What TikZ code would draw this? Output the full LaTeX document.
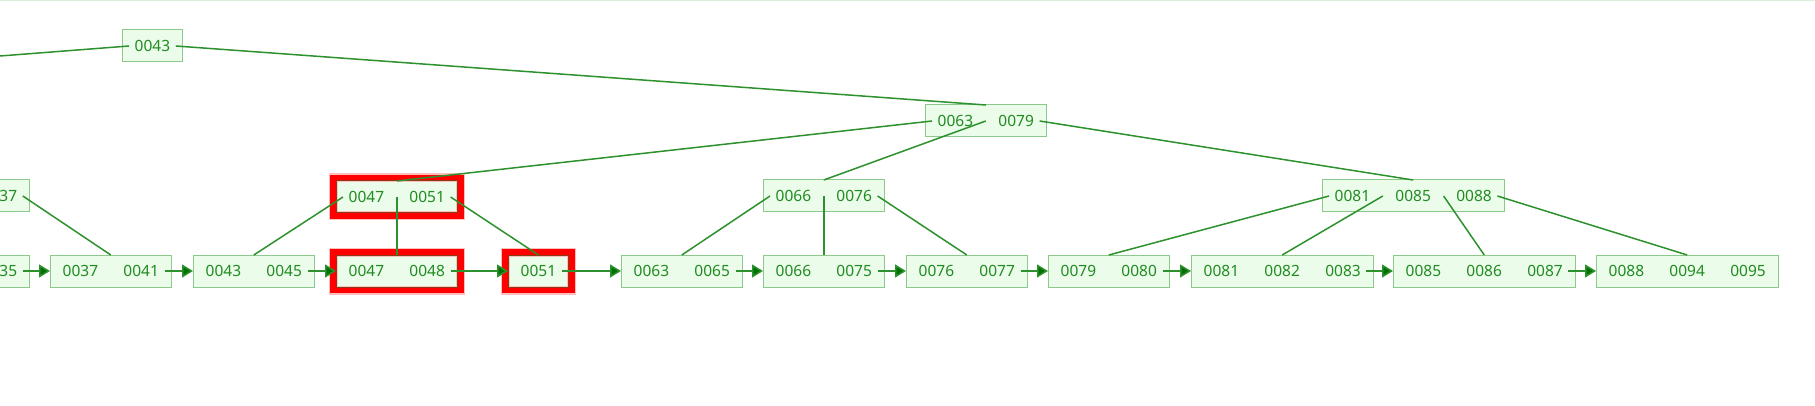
\documentclass[tikz,border=0pt]{standalone}
\usepackage{fontspec}
\setmainfont{Noto Sans}
\usetikzlibrary{calc,arrows.meta}
\definecolor{boxfill}{RGB}{235,252,235}
\definecolor{boxline}{RGB}{140,202,140}
\definecolor{keytext}{RGB}{34,140,34}
\definecolor{edgegreen}{RGB}{45,145,45}
\definecolor{tipgreen}{RGB}{0,112,0}
\definecolor{hlinner}{RGB}{140,60,20}
\definecolor{topband}{RGB}{215,240,215}
\tikzset{
  kbox/.style={draw=boxline, fill=boxfill, line width=1pt, minimum height=32pt, inner sep=0pt, outer sep=0pt, anchor=north west},
  ktext/.style={text=keytext, font=\fontsize{15.5}{18}\selectfont, inner sep=0pt},
  hl/.style={draw=hlinner},
  hlring/.style={draw=red, line width=6pt},
  hlhalo/.style={draw=red!25, line width=9pt},
  tree/.style={draw=edgegreen, line width=1.5pt},
  nextptr/.style={draw=edgegreen, line width=1.5pt, -{Triangle[length=11pt,width=13pt,fill=tipgreen]}},
}
% #1 name, #2 left, #3 top, #4 number of keys, #5 keys, #6 extra style
\newcommand\keybox[6]{%
  \node[kbox, minimum width={#4*60.8pt}, #6] (#1) at (#2,#3) {};
  \coordinate (#1-p0) at ($(#1.west)+(7,0)$);
  \foreach \k [count=\i] in {#5} {
    \node[ktext] (#1-k\i) at ($(#1.west)+({60.8*\i-30.4},0)$) {\k};
    \coordinate (#1-p\i) at ($(#1.west)+({60.8*\i},0)$);
  }
  \coordinate (#1-p#4) at ($(#1.east)+(-7,0)$);
}
\newcommand\hlbox[1]{%
  \draw[hlhalo] ($(#1.north west)+(-3,-3)$) rectangle ($(#1.south east)+(3,3)$);
  \draw[hlring] ($(#1.north west)+(-3,-3)$) rectangle ($(#1.south east)+(3,3)$);
}
\begin{document}
\begin{tikzpicture}[x=1pt,y=-1pt]
\useasboundingbox (0,0) rectangle (1815,406);
\clip (0,0) rectangle (1815,406);
\fill[white] (0,0) rectangle (1815,406);
\draw[topband, line width=2pt] (0,0.5) -- (1815,0.5);

\keybox{R}{122}{30}{1}{0043}{}
\keybox{N1}{925}{105}{2}{0063,0079}{}
\keybox{I0}{-31}{180}{1}{0037}{}
\keybox{I2a}{336}{181}{2}{0047,0051}{hl}
\keybox{I2b}{763}{180}{2}{0066,0076}{}
\keybox{I2c}{1322}{180}{3}{0081,0085,0088}{}

\keybox{L0}{-31}{255}{1}{0035}{}
\keybox{L1}{50}{255}{2}{0037,0041}{}
\keybox{L2}{193}{255}{2}{0043,0045}{}
\keybox{L3}{336}{255}{2}{0047,0048}{hl}
\keybox{L4}{508}{255}{1}{0051}{hl}
\keybox{L5}{621}{255}{2}{0063,0065}{}
\keybox{L6}{763}{255}{2}{0066,0075}{}
\keybox{L7}{906}{255}{2}{0076,0077}{}
\keybox{L8}{1048}{255}{2}{0079,0080}{}
\keybox{L9}{1191}{255}{3}{0081,0082,0083}{}
\keybox{L10}{1393}{255}{3}{0085,0086,0087}{}
\keybox{L11}{1596}{255}{3}{0088,0094,0095}{}

\hlbox{I2a}
\hlbox{L3}
\hlbox{L4}
\foreach \b in {I2a,L3,L4} \draw[hlinner, line width=1pt] (\b.north west) rectangle (\b.south east);

\coordinate (offL) at (0,56);

% tree edges
\draw[tree] (R-p0) -- (offL);
\draw[tree] (R-p1) -- (N1.north);
\draw[tree] (N1-p0) -- (I2a.north);
\draw[tree] (N1-p1) -- (I2b.north);
\draw[tree] (N1-p2) -- (I2c.north);
\draw[tree] (I0-p1) -- (L1.north);
\draw[tree] (I2a-p0) -- (L2.north);
\draw[tree] (I2a-p1) -- (L3.north);
\draw[tree] (I2a-p2) -- (L4.north);
\draw[tree] (I2b-p0) -- (L5.north);
\draw[tree] (I2b-p1) -- (L6.north);
\draw[tree] (I2b-p2) -- (L7.north);
\draw[tree] (I2c-p0) -- (L8.north);
\draw[tree] (I2c-p1) -- (L9.north);
\draw[tree] (I2c-p2) -- (L10.north);
\draw[tree] (I2c-p3) -- (L11.north);

% leaf chain
\draw[nextptr] (L0-p1) -- (L1.west);
\draw[nextptr] (L1-p2) -- (L2.west);
\draw[nextptr] (L2-p2) -- (L3.west);
\draw[nextptr] (L3-p2) -- (L4.west);
\draw[nextptr] (L4-p1) -- (L5.west);
\draw[nextptr] (L5-p2) -- (L6.west);
\draw[nextptr] (L6-p2) -- (L7.west);
\draw[nextptr] (L7-p2) -- (L8.west);
\draw[nextptr] (L8-p2) -- (L9.west);
\draw[nextptr] (L9-p3) -- (L10.west);
\draw[nextptr] (L10-p3) -- (L11.west);
\end{tikzpicture}
\end{document}
